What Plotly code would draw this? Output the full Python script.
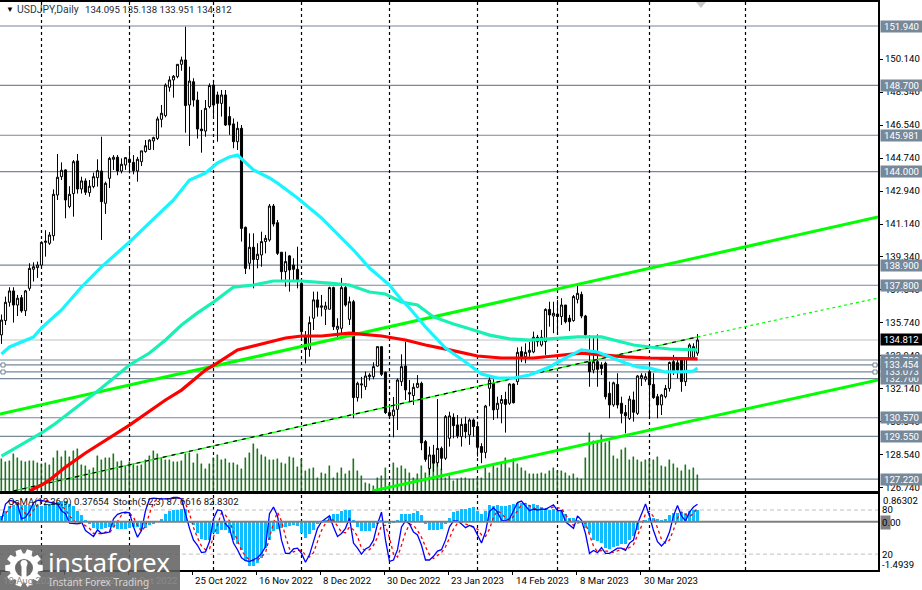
import math
import plotly.graph_objects as go

W, H = 922, 590
PANEL_R = 878

opens = [135.09,135.87,136.87,137.49,136.72,137.12,136.41,137.63,138.67,138.76,
138.90,140.14,140.09,140.50,142.72,143.72,144.09,142.09,142.80,144.58,
143.05,143.49,142.85,143.18,143.67,144.03,142.27,143.63,144.67,144.78,
144.03,144.36,144.67,144.50,144.03,144.54,145.09,145.21,145.67,145.81,
146.85,147.05,148.60,149.00,149.18,149.85,150.09,147.63,148.90,147.90,
146.32,146.21,147.54,148.72,148.18,147.72,148.18,147.00,146.60,145.63,
146.36,140.96,139.00,139.87,139.20,139.45,140.18,140.27,142.12,141.21,
139.60,138.54,139.40,138.90,138.67,137.90,135.00,134.30,136.00,137.00,
136.60,136.49,136.49,137.67,135.40,135.45,137.67,135.94,136.90,131.67,
132.36,132.27,132.81,132.81,133.39,134.45,133.05,130.85,130.68,131.03,
132.54,133.39,131.94,131.78,132.23,132.45,129.27,127.81,128.54,128.12,
128.90,128.36,129.45,130.59,130.18,129.54,130.23,129.63,130.45,130.09,
129.00,128.68,132.18,132.45,131.03,131.36,131.57,131.36,132.41,132.54,
134.18,133.90,134.14,134.16,134.96,134.54,134.72,136.48,136.12,136.23,
136.09,136.72,136.00,135.87,137.03,137.30,136.12,133.63,133.17,133.63,
133.45,133.54,131.90,131.27,132.39,131.36,130.85,130.54,131.54,130.81,
132.72,132.67,133.08,132.39,131.72,131.27,131.72,132.17,133.63,133.57,
133.81,132.54,133.81,133.87,134.095]
highs = [136.20,137.18,137.69,137.69,137.27,137.27,137.54,139.00,139.05,139.09,
140.20,140.80,140.70,143.03,144.96,144.50,144.12,143.20,144.63,144.96,
143.72,143.63,143.54,143.94,144.67,145.90,143.45,144.80,144.90,144.90,
144.72,144.78,145.36,144.90,144.80,145.13,145.72,145.76,145.90,147.00,
147.63,148.81,149.20,149.27,149.85,150.27,151.90,149.72,149.09,148.36,
147.36,147.90,148.81,149.00,148.36,148.45,148.45,147.54,146.90,146.72,
146.54,141.00,140.63,140.63,140.09,140.72,140.54,142.23,142.23,141.36,
139.60,139.63,139.45,139.27,139.90,138.00,135.30,136.10,137.45,137.45,
137.27,136.90,137.72,137.72,136.00,138.20,137.90,137.18,137.00,132.54,
132.80,133.09,133.00,133.60,134.45,134.45,133.09,131.18,131.70,132.72,
134.03,134.72,132.63,132.45,132.90,132.54,129.36,129.00,129.09,131.59,
129.00,130.72,130.90,130.81,130.72,130.54,130.63,130.54,130.54,130.36,
129.18,131.27,132.85,132.67,131.72,131.81,131.99,132.45,132.45,134.41,
134.45,134.63,134.70,135.27,135.09,135.36,136.54,136.90,136.90,137.00,
137.09,136.72,136.18,137.27,137.76,137.45,136.18,135.08,135.03,135.12,
133.60,133.63,132.54,132.54,133.00,131.72,131.27,131.77,132.00,132.90,
133.00,133.00,133.54,133.00,131.87,131.87,132.36,133.63,134.00,133.72,
133.81,133.85,134.63,134.63,135.138]
lows = [134.60,135.63,136.63,135.76,136.12,136.30,136.12,137.50,138.00,138.20,
138.85,139.36,140.00,140.23,142.45,143.54,141.45,142.00,141.54,142.80,
142.80,142.72,142.63,143.09,143.18,140.27,141.69,143.10,144.09,143.80,
143.90,144.09,143.90,143.85,143.45,144.30,145.03,145.18,145.18,145.72,
146.41,146.96,148.36,148.03,149.09,149.50,146.12,145.40,147.54,145.80,
145.03,145.90,147.45,146.90,145.63,147.00,146.49,146.00,145.27,145.18,
140.18,138.41,138.67,137.63,138.72,138.81,139.54,140.18,141.00,139.45,
138.09,137.72,137.45,138.09,137.63,134.80,133.54,133.90,135.36,136.09,
136.10,135.63,136.49,135.36,134.90,135.18,136.63,135.63,130.54,131.45,
131.63,132.09,132.60,132.67,133.36,132.85,130.78,130.54,129.50,129.90,
132.30,131.54,131.45,131.27,132.18,128.80,128.17,127.45,127.63,127.90,
127.72,128.27,129.00,129.45,129.45,129.00,129.45,129.09,129.54,128.45,
128.09,128.36,131.20,130.45,130.54,130.27,129.76,131.27,131.35,132.36,
133.60,133.54,133.90,134.09,134.45,134.45,134.00,135.54,135.18,135.09,
135.63,135.72,135.30,135.81,136.81,136.00,134.90,132.26,132.99,132.26,
132.90,131.57,130.54,131.17,131.08,130.27,129.72,130.45,130.36,130.72,
132.30,132.54,130.54,131.60,130.54,130.72,131.63,132.00,132.90,132.72,
131.99,132.30,133.72,133.81,133.951]
closes = [135.90,136.87,137.49,136.72,137.09,136.40,137.49,138.72,138.81,138.90,
140.14,140.20,140.54,142.76,143.69,144.07,142.45,142.76,144.54,143.05,
143.49,142.87,143.20,143.72,144.05,142.36,143.36,144.72,144.78,144.03,
144.40,144.76,144.50,144.05,144.67,145.13,145.41,145.72,145.85,146.87,
147.18,148.72,149.00,149.20,149.85,150.09,147.60,148.94,147.90,146.32,
146.23,147.45,148.69,147.63,147.72,148.18,146.54,146.54,145.63,146.36,
140.90,138.72,139.87,139.20,139.49,140.18,140.36,142.12,141.14,139.54,
138.54,139.09,138.63,138.67,138.09,135.27,134.30,135.76,137.00,136.60,
136.67,136.67,137.67,135.54,135.56,137.67,136.72,136.90,131.67,132.45,
132.41,132.85,132.90,133.36,134.45,132.94,130.85,130.68,130.99,132.63,
133.36,132.09,131.87,132.23,132.45,129.20,128.30,128.54,128.09,128.90,
128.36,130.63,130.67,130.14,129.58,130.21,129.81,130.45,130.09,128.96,
128.68,131.21,132.63,131.00,131.36,131.57,131.30,132.41,131.39,134.14,
133.90,134.14,134.25,134.96,134.72,134.96,136.48,136.18,136.27,136.09,
136.72,135.81,135.81,137.18,137.36,136.12,135.10,133.08,133.63,133.21,
133.26,131.72,131.27,132.48,131.27,130.81,130.68,131.59,130.87,132.85,
132.87,132.81,132.36,131.67,131.27,131.81,132.17,133.59,133.09,133.17,
132.54,133.81,134.54,134.45,134.812]
volumes = [32,29,30,37,33,30,29,30,30,28,
27,28,26,33,40,34,40,34,40,42,
26,25,21,23,35,31,33,33,37,29,
30,25,29,27,25,26,31,35,40,37,
33,31,31,29,29,30,37,38,28,37,
27,22,27,33,36,31,32,28,28,26,
22,33,38,47,42,36,34,31,31,32,
28,27,34,33,24,32,20,22,23,13,
18,17,25,13,18,23,17,20,32,20,
15,8,7,5,13,15,23,7,28,23,
25,22,18,13,17,25,18,23,27,28,
22,13,15,10,12,13,13,12,12,13,
13,23,18,27,23,27,33,23,32,27,
23,20,17,17,17,18,17,20,23,20,
20,18,15,17,13,12,33,58,50,48,
56,48,50,35,32,41,43,31,34,31,
29,31,32,31,34,25,24,31,27,23,
20,26,21,23,16]
osma = [.18,.35,.49,.51,.52,.51,.52,.52,.52,.52,
.49,.54,.56,.61,.62,.64,.64,.56,.49,.33,
.20,.05,-.08,-.19,-.22,-.22,-.19,-.16,-.16,-.22,
-.21,-.21,-.19,-.17,-.16,-.22,-.19,-.10,-.06,.00,
.10,.23,.33,.36,.38,.41,.40,-.03,-.10,-.34,
-.53,-.55,-.55,-.34,-.39,-.26,-.26,-.34,-.55,-.70,
-.86,-1.22,-1.36,-1.38,-1.29,-1.12,-.81,-.55,-.29,-.22,
-.19,-.16,-.13,-.11,-.13,-.34,-.50,-.37,-.24,-.08,
-.03,.07,.18,.23,.23,.35,.36,.38,.04,-.16,
-.29,-.29,-.27,-.19,-.08,.04,-.03,-.08,-.05,.07,
.23,.23,.23,.28,.35,.20,-.08,-.24,-.26,-.26,
-.22,-.06,.12,.30,.35,.40,.40,.43,.46,.33,
.23,.33,.51,.49,.51,.49,.49,.52,.54,.57,
.59,.57,.51,.54,.51,.47,.40,.38,.40,.33,
.38,.23,.12,.12,.07,-.03,-.19,-.34,-.55,-.60,
-.67,-.81,-.84,-.78,-.76,-.70,-.70,-.55,-.45,-.24,
.02,.07,.12,.12,.09,.05,.09,.20,.26,.28,
.30,.28,.35,.38,.37654]
stoch_main = [66,88,93,92,88,68,70,78,90,93,
93,92,90,89,88,79,75,62,61,61,
64,52,48,44,53,48,49,50,68,74,
76,77,76,57,43,52,79,95,96,95,
95,95,95,97,97,95,75,55,39,32,
22,23,37,68,80,79,61,55,35,26,
15,11,10,12,15,21,30,75,84,72,
39,21,21,27,28,21,9,19,37,55,
64,68,72,57,44,48,55,69,35,28,
20,27,30,39,61,77,39,10,12,26,
57,65,61,50,46,32,12,12,17,24,
26,39,57,65,65,61,56,59,57,46,
35,50,78,83,77,66,65,68,79,90,
92,86,79,81,80,81,81,84,87,79,
79,64,59,55,72,66,48,21,25,22,
29,21,21,24,28,28,25,35,39,61,
75,88,72,52,37,31,37,50,72,86,
72,65,77,84,87.6616]
stoch_signal = [70,75,82,91,91,83,75,72,79,87,
92,93,92,90,89,85,81,72,66,61,
62,59,55,48,48,48,50,49,56,64,
73,76,76,70,59,51,58,75,90,95,
95,95,95,96,96,96,89,75,56,42,
31,26,27,43,62,76,73,65,50,39,
25,17,12,11,12,16,22,42,63,77,
65,44,27,23,25,25,19,16,22,37,
52,62,68,66,58,50,49,57,53,44,
28,25,26,32,43,59,59,42,20,16,
32,49,61,59,52,43,30,19,14,18,
22,30,41,54,62,64,61,59,57,54,
46,44,54,70,79,75,69,66,71,79,
87,89,86,82,80,81,81,82,84,83,
82,74,67,59,62,64,62,45,31,23,
25,24,24,22,24,27,27,29,33,45,
58,75,78,71,54,40,35,39,53,69,
77,74,71,75,82.8302]
for arr in (opens, highs, lows, closes, volumes, osma, stoch_main, stoch_signal):
    assert len(arr) == 175, len(arr)
bars = list(range(175))

ma_fast_x = [0,2,8,10,15,20,25,32,43,47,51,54,57,59,63,67,69,74,80,88,92,97,100,102,106,111,116,120,124,128,132,137,141,145,149,152,156,159,162,166,170,173,174]
ma_fast_y = [134.05,134.43,134.97,135.47,136.45,137.7,138.8,140.16,142.45,143.54,143.92,144.47,144.8,144.9,144.09,143.65,143.37,142.56,141.47,139.72,138.74,137.81,137.0,136.56,135.52,134.37,133.61,132.96,132.74,132.74,132.9,133.34,133.83,134.27,134.16,133.89,133.56,133.34,133.28,133.07,133.07,133.12,133.28]
ma_mid_x = [0,10,13,21,25,32,37,41,45,49,53,58,63,68,75,82,87,92,96,100,104,108,113,118,122,127,132,137,144,150,153,158,162,167,174]
ma_mid_y = [128.48,129.74,130.18,131.54,132.19,133.45,134.1,134.81,135.63,136.29,136.88,137.7,137.81,138.03,138.03,137.92,137.81,137.43,137.32,136.88,136.72,136.07,135.69,135.36,135.08,134.87,134.81,134.87,134.98,134.98,134.81,134.54,134.43,134.32,134.27]
ma_slow_x = [7,10,12,16,21,25,28,32,41,45,51,54,59,65,71,75,80,87,95,101,106,112,119,125,133,138,145,150,156,162,174]
ma_slow_y = [126.58,126.9,127.17,127.88,128.65,129.19,129.63,130.17,131.54,132.08,133.17,133.56,134.27,134.59,134.92,135.03,135.03,135.19,135.03,134.81,134.54,134.27,133.94,133.83,133.83,133.94,134.1,134.0,133.89,133.83,133.78]

upper_x, upper_y = [-0.375, 219.125], [130.77, 141.52]
lower_x, lower_y = [92.75, 219.125], [126.58, 132.63]
middle_x, middle_y = [3, 174], [126.58, 134.98]
middle_ext_x, middle_ext_y = [174, 219.125], [134.98, 137.1]

price_ticks = [150.14,148.34,146.54,144.74,142.94,141.14,139.34,137.54,135.74,133.94,132.14,130.34,128.54,126.74]
level_prices = [151.94,148.70,145.981,144.00,138.90,137.80,133.72,133.454,133.073,132.70,130.57,129.55,127.22]
tag_prices = [151.94,148.70,145.981,144.00,138.90,137.80,132.70,133.073,133.72,133.454,130.57,129.55,127.22]
tag_texts = ["151.940","148.700","145.981","144.000","138.900","137.800","132.700","133.073","133.720","133.454","130.570","129.550","127.220"]
last_price = 134.812
month_breaks = [10,32,53,75,97,119,139,162,186]
date_bars = [-0.25,15.75,31.75,47.75,63.75,79.75,95.75,111.75,128,144,160]
date_labels = ["18 Aug 2022","9 Sep 2022","3 Oct 2022","25 Oct 2022","16 Nov 2022","8 Dec 2022","30 Dec 2022","23 Jan 2023","14 Feb 2023","8 Mar 2023","30 Mar 2023"]

FONT = "Roboto"
FS = 9.6
GREY = "#778899"
XR = [-0.375, 219.125]
PRICE_R = [126.575, 153.25]
OSMA_R = [-1.4939, 0.86302]
STOCH_R = [-1.6, 101.7]

def px(x): return x / W
def py(y): return 1 - y / H

fig = go.Figure()
fig.add_trace(go.Bar(x=bars, y=volumes, width=0.3, marker=dict(color="#006400", line=dict(color="#006400", width=0.4)), xaxis="x", yaxis="y", showlegend=False))
fig.add_trace(go.Candlestick(x=bars, open=opens, high=highs, low=lows, close=closes, xaxis="x", yaxis="y2", whiskerwidth=0,
    increasing=dict(line=dict(color="black", width=1), fillcolor="white"),
    decreasing=dict(line=dict(color="black", width=1), fillcolor="black"), showlegend=False))
def ln(x, y, color, width, dash="solid", ya="y2", xa="x"):
    fig.add_trace(go.Scatter(x=x, y=y, mode="lines", line=dict(color=color, width=width, dash=dash), xaxis=xa, yaxis=ya, showlegend=False, hoverinfo="skip"))
ln(middle_x, middle_y, "#00ff00", 1.2)
ln(middle_x, middle_y, "black", 1.2, "4px,5px")
ln(middle_ext_x, middle_ext_y, "#00ff00", 1.2, "3px,3px")
ln(upper_x, upper_y, "#00ff00", 3)
ln(lower_x, lower_y, "#00ff00", 3)
ln(ma_mid_x, ma_mid_y, "#19f0b4", 3.2)
ln(ma_slow_x, ma_slow_y, "#ff0000", 3.2)
ln(ma_fast_x, ma_fast_y, "#19f5ff", 3.2)

fig.add_trace(go.Bar(x=bars, y=osma, width=0.75, marker=dict(color="#0fbcff", line_width=0), xaxis="x2", yaxis="y3", showlegend=False))
ln(bars, stoch_signal, "#ff0000", 1.3, "3px,3px", "y4", "x2")
ln(bars, stoch_main, "#0000ff", 1.3, "solid", "y4", "x2")

shapes = []
for p in level_prices:
    shapes.append(dict(type="line", xref="x", yref="y2", x0=XR[0], x1=XR[1], y0=p, y1=p, line=dict(color=GREY, width=1.2), layer="below"))
shapes.append(dict(type="line", xref="x", yref="y2", x0=XR[0], x1=XR[1], y0=last_price, y1=last_price, line=dict(color="#c0c0c0", width=1), layer="below"))
shapes.append(dict(type="line", xref="x", yref="y2", x0=164.5, x1=174, y0=133.74, y1=133.74, line=dict(color="#b22222", width=1), layer="above"))
for b in month_breaks:
    shapes.append(dict(type="line", xref="x", yref="y2", x0=b, x1=b, y0=PRICE_R[0], y1=PRICE_R[1], line=dict(color="black", width=1.2, dash="3px,3px"), layer="below"))
    shapes.append(dict(type="line", xref="x2", yref="y4", x0=b, x1=b, y0=STOCH_R[0], y1=STOCH_R[1], line=dict(color="black", width=1.2, dash="3px,3px"), layer="below"))
for lev in (80, 20):
    shapes.append(dict(type="line", xref="x2", yref="y4", x0=XR[0], x1=XR[1], y0=lev, y1=lev, line=dict(color="#c0c0c0", width=1, dash="4px,3px"), layer="below"))
shapes.append(dict(type="line", xref="x2", yref="y3", x0=XR[0], x1=XR[1], y0=0, y1=0, line=dict(color="#808080", width=2), layer="above"))
for yy in (365, 372):
    for xx in (3, 875):
        shapes.append(dict(type="rect", xref="paper", yref="paper", x0=px(xx-2), x1=px(xx+2), y0=py(yy-2), y1=py(yy+2), line=dict(color=GREY, width=1), fillcolor="white", layer="above"))
shapes.append(dict(type="path", xref="paper", yref="paper", path=f"M {px(696)} {py(2)} L {px(706)} {py(2)} L {px(701)} {py(8)} Z", fillcolor="#c8c8c8", line_width=0))
shapes.append(dict(type="rect", xref="paper", yref="paper", x0=0, x1=px(180), y0=py(545), y1=py(590), fillcolor="rgba(95,95,95,0.86)", line_width=0, layer="above"))
cx, cy, ro, ri = 24, 568, 19, 14.5
pts = []
for k in range(10):
    a = 2*math.pi*k/10
    for da, r in ((-0.24, ri), (-0.15, ro), (0.15, ro), (0.24, ri)):
        pts.append((cx + r*math.cos(a+da), cy + r*math.sin(a+da)))
gear = "M " + " L ".join(f"{px(x)} {py(y)}" for x, y in pts) + " Z"
shapes.append(dict(type="path", xref="paper", yref="paper", path=gear, fillcolor="white", line_width=0, layer="above"))
shapes.append(dict(type="circle", xref="paper", yref="paper", x0=px(cx-9), x1=px(cx+9), y0=py(cy+9), y1=py(cy-9), fillcolor="#6a6a6a", line_width=0, layer="above"))
shapes.append(dict(type="circle", xref="paper", yref="paper", x0=px(cx-3.5), x1=px(cx+3.5), y0=py(cy-1), y1=py(cy-8), fillcolor="white", line_width=0, layer="above"))
shapes.append(dict(type="rect", xref="paper", yref="paper", x0=px(cx-2.5), x1=px(cx+2.5), y0=py(cy+12), y1=py(cy-2), fillcolor="white", line_width=0, layer="above"))

ann = []
def txt(x, y, s, size=FS, color="black", anchor="left", family=FONT):
    ann.append(dict(xref="paper", yref="paper", x=px(x), y=py(y), text=s, showarrow=False, xanchor=anchor, yanchor="middle",
                    font=dict(family=family, size=size, color=color)))
txt(4, 10, "▼", 8, "black")
txt(15, 10, "USDJPY,Daily", 10.4, "#2b3a4a")
txt(83, 10, "134.095 135.138 133.951 134.812", FS, "#1a2430")
txt(6, 502, "OsMA(12,26,9) 0.37654", FS, "#111")
txt(111, 502, "Stoch(5,2,3) 87.6616 82.8302", FS, "#111")
for p, t in zip(tag_prices, tag_texts):
    ann.append(dict(xref="paper", yref="y2", x=px(880), y=p, text=t, showarrow=False, xanchor="left", yanchor="middle",
                    width=41, height=11, bgcolor=GREY, borderpad=0, align="center",
                    font=dict(family=FONT, size=FS, color="white")))
ann.append(dict(xref="paper", yref="y2", x=px(880), y=last_price, text="134.812", showarrow=False, xanchor="left", yanchor="middle",
                width=41, height=11, bgcolor="black", borderpad=0, align="center",
                font=dict(family=FONT, size=FS, color="white")))
for b, t in zip(date_bars, date_labels):
    dim = b < 40
    xp = (b - XR[0]) / (XR[1] - XR[0]) * PANEL_R
    txt(max(xp, 0), 580, t, FS, "#8a8a8a" if dim else "black")
txt(881, 500.5, "0.86302")
txt(880, 509.5, "80")
ann.append(dict(xref="paper", yref="paper", x=px(880), y=py(522), text=" ", showarrow=False, xanchor="left", yanchor="middle", width=7, height=11, bgcolor="#808080", font=dict(size=8)))
txt(880, 522, "0.00")
txt(880, 554, "20")
txt(880, 564, "-1.4939")
txt(46, 562, "instaforex", 26, "white", family="Noto Sans")
txt(47, 582, "Instant Forex Trading", 10, "rgba(255,255,255,0.7)", family="Noto Sans")

axis_line = dict(showline=True, linecolor="black", linewidth=2, mirror=True, showgrid=False, zeroline=False)
fig.update_layout(
    width=W, height=H, margin=dict(l=0, r=0, t=0, b=0, autoexpand=False), paper_bgcolor="white", plot_bgcolor="white",
    bargap=0, barmode="overlay", boxgap=0.25, showlegend=False, hovermode=False,
    xaxis=dict(domain=[0, PANEL_R/W], range=XR, anchor="y", showticklabels=False, ticks="", fixedrange=True, rangeslider=dict(visible=False), **axis_line),
    yaxis=dict(domain=[py(491), py(2)], range=[0, 489], side="left", visible=False, fixedrange=True),
    yaxis2=dict(domain=[py(491), py(2)], overlaying="y", range=PRICE_R, side="right", anchor="x", tickvals=price_ticks,
                ticktext=[f"{v:.3f}" for v in price_ticks], ticks="outside", ticklen=3, tickcolor="black",
                tickfont=dict(family=FONT, size=FS, color="black"), fixedrange=True, **axis_line),
    xaxis2=dict(domain=[0, PANEL_R/W], range=XR, anchor="y3", tickvals=[-0.25+16*k for k in range(11)], ticks="outside", ticklen=3, tickcolor="black",
                showticklabels=False, fixedrange=True, **axis_line),
    yaxis3=dict(domain=[py(570), py(494)], range=OSMA_R, side="right", anchor="x2", showticklabels=False, ticks="", fixedrange=True, **axis_line),
    yaxis4=dict(domain=[py(570), py(494)], overlaying="y3", range=STOCH_R, side="right", visible=False, fixedrange=True),
    shapes=shapes, annotations=ann,
)
fig.write_html("out.html", config=dict(displayModeBar=False),
               post_script="document.body.style.margin='0';document.documentElement.style.overflow='hidden';")
